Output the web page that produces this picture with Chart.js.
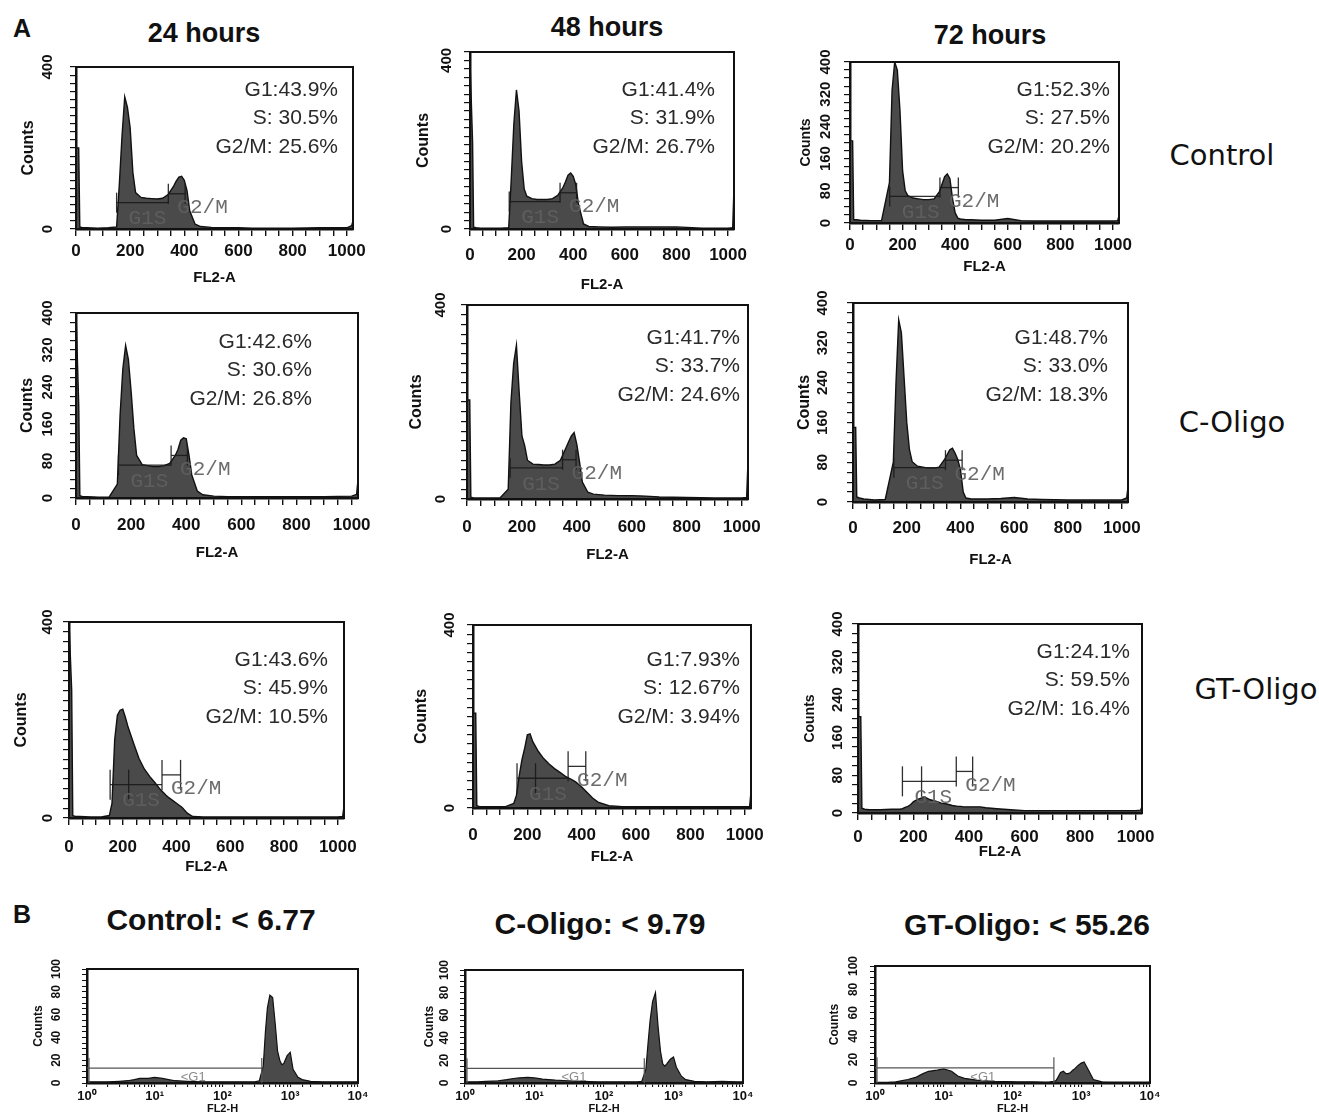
<!DOCTYPE html>
<html>
<head>
<meta charset="utf-8">
<script src="https://cdn.jsdelivr.net/npm/chart.js@4.4.1/dist/chart.umd.min.js"></script>
<style>
body{margin:0;background:#fff;width:1319px;height:1115px;position:relative;overflow:hidden;font-family:"Liberation Sans",Arial,sans-serif;color:#111}
.t{position:absolute;transform:translate(-50%,-50%);line-height:1;white-space:nowrap}
.b{font-weight:bold}
.row{font-family:"DejaVu Sans",sans-serif;font-size:29px}
canvas{position:absolute}
</style>
</head>
<body>
<div class="t b" style="left:22px;top:28px;font-size:25px">A</div>
<div class="t b" style="left:204px;top:33px;font-size:27px">24 hours</div>
<div class="t b" style="left:607px;top:27px;font-size:27px">48 hours</div>
<div class="t b" style="left:990px;top:35px;font-size:27px">72 hours</div>
<div class="t row" style="left:1222px;top:155px">Control</div>
<div class="t row" style="left:1232px;top:422px">C-Oligo</div>
<div class="t row" style="left:1256px;top:689px">GT-Oligo</div>
<div class="t b" style="left:22px;top:914px;font-size:25px">B</div>
<div class="t b" style="left:211px;top:920px;font-size:30px">Control: &lt; 6.77</div>
<div class="t b" style="left:600px;top:924px;font-size:30px">C-Oligo: &lt; 9.79</div>
<div class="t b" style="left:1027px;top:925px;font-size:30px">GT-Oligo: &lt; 55.26</div>

<script>
'use strict'

// DNA content channels (FL2-A), shared by the nine cell-cycle histograms
const CH = [0, 10, 14, 24, 40, 80, 120, 150, 160, 170, 180, 190, 200, 210, 220, 240, 260, 280, 300, 320,
  340, 360, 370, 380, 390, 400, 410, 420, 440, 460, 500, 550, 600, 650, 700, 800, 900, 1000, 1018, 1023];

// counts per channel
const CTRL_24   = [200,200,5,3,3,2,3,5,110,230,326,300,250,140,90,78,76,75,74,76,85,105,118,128,130,120,95,45,12,6,4,3,3,2,2,2,3,3,8,20];
const CTRL_48   = [400,205,4,3,2,2,2,3,120,250,330,280,160,95,78,72,70,70,70,72,80,98,112,128,133,125,105,60,12,6,5,4,5,5,5,5,2,2,3,100];
const CTRL_72   = [204,204,8,8,7,6,6,100,330,400,380,280,130,80,68,62,60,58,58,60,78,115,122,110,60,25,12,10,8,8,7,7,11,6,5,5,5,5,6,18];
const COLIGO_24 = [400,200,5,3,3,2,2,30,180,280,330,300,230,150,92,72,70,68,68,70,75,92,105,125,130,128,92,50,15,7,4,3,3,3,3,3,3,4,8,40];
const COLIGO_48 = [204,204,4,2,2,2,2,20,200,280,317,220,130,110,80,72,71,70,70,72,80,105,118,130,137,112,75,35,14,10,8,7,7,6,4,3,2,2,3,78];
const COLIGO_72 = [150,150,10,8,6,4,5,80,240,366,340,250,160,105,81,72,70,68,68,70,85,105,108,98,85,64,20,8,6,6,6,7,9,6,5,4,4,4,8,30];
const GT_24     = [400,260,5,3,3,2,2,5,30,160,210,220,222,205,185,153,122,100,85,72,58,47,42,38,34,30,26,22,10,3,2,2,2,2,2,2,2,2,3,24];
const GT_48     = [207,207,5,3,3,3,3,10,28,70,105,130,160,162,145,124,108,96,86,78,69,63,60,56,51,46,40,34,22,13,5,3,3,3,3,3,3,3,3,36];
const GT_72     = [204,204,10,8,7,7,8,8,9,12,14,18,24,27,30,34,28,25,21,19,16,14,14,13,13,13,13,13,13,11,9,7,5,5,5,5,5,5,6,14];

// gates: G1 start, G1/S split (0 = none), S end, G2/M end, G1-S marker level, G2/M marker level
const GATE_CTRL_24   = [150, 0, 341, 403, 65, 87];
const GATE_CTRL_48   = [152, 0, 349, 413, 65, 86];
const GATE_CTRL_72   = [151, 0, 342, 412, 66, 88];
const GATE_COLIGO_24 = [154, 0, 345, 404, 71, 92];
const GATE_COLIGO_48 = [157, 0, 348, 397, 64, 81];
const GATE_COLIGO_72 = [152, 0, 344, 406, 69, 84];
const GATE_GT_24     = [153, 222, 346, 415, 68, 88];
const GATE_GT_48     = [162, 230, 350, 415, 65, 91];
const GATE_GT_72     = [160, 229, 354, 413, 67, 88];

const PCT_CTRL_24   = ['G1:43.9%', 'S: 30.5%', 'G2/M: 25.6%'];
const PCT_CTRL_48   = ['G1:41.4%', 'S: 31.9%', 'G2/M: 26.7%'];
const PCT_CTRL_72   = ['G1:52.3%', 'S: 27.5%', 'G2/M: 20.2%'];
const PCT_COLIGO_24 = ['G1:42.6%', 'S: 30.6%', 'G2/M: 26.8%'];
const PCT_COLIGO_48 = ['G1:41.7%', 'S: 33.7%', 'G2/M: 24.6%'];
const PCT_COLIGO_72 = ['G1:48.7%', 'S: 33.0%', 'G2/M: 18.3%'];
const PCT_GT_24     = ['G1:43.6%', 'S: 45.9%', 'G2/M: 10.5%'];
const PCT_GT_48     = ['G1:7.93%', 'S: 12.67%', 'G2/M: 3.94%'];
const PCT_GT_72     = ['G1:24.1%', 'S: 59.5%', 'G2/M: 16.4%'];

const X_TICKS = [0, 200, 400, 600, 800, 1000];
const Y_SPARSE = [0, 400];
const Y_FULL = [0, 80, 160, 240, 320, 400];

// panel B: sub-G1 (FL2-H, log)
const B_X = [1, 1.5, 2, 3, 4, 5, 6, 8, 10, 13, 16, 20, 30, 50, 80, 120, 200, 300, 350, 400, 430, 460, 500,
  550, 600, 650, 700, 750, 800, 900, 1000, 1100, 1300, 1500, 2000, 3000, 5000, 8000, 10000];
const B_CONTROL = [1,1,1,1.5,2,3,4,4,5,4,3,2,1.5,1,1,1,1,1,2,15,45,66,77,75,52,28,20,16,17,24,27,12,5,3,1.5,1,1,1,1];
const B_COLIGO  = [1,1,1.5,2,3,4,4.5,5,4.5,3.5,3,2.5,2,1.5,1,1,1,1,1.5,12,35,55,72,80,50,28,17,15,17,21,23,14,6,3,1.5,1,1.5,1,1];
const B_GTOLIGO = [0.5,0.5,1,3,5,8,10,11,12,10,6,4,2.5,1.5,1.2,1,1,0.8,1,1.5,2,5,9,10,8,8,9,11,12,15,17,18,10,3,1,0.8,0.8,0.8,0.8];
const B_GATE = [380, 380, 400];
const B_X_LABELS = {1: '10\u2070', 10: '10\u00b9', 100: '10\u00b2', 1000: '10\u00b3', 10000: '10\u2074'};
const B_Y_TICKS = [0, 20, 40, 60, 80, 100];

Chart.defaults.font.family = '"Liberation Sans", Arial, sans-serif';

const A_PANELS = [
  {L:76,  T:67,  R:353,  B:229, ymax:400, data:CTRL_24,   gate:GATE_CTRL_24,   pct:PCT_CTRL_24,   yt:Y_SPARSE, yLab:-28, cnt:-47, cntSize:16, pctDx:-15, pctDy:23, xLab:22, xTitle:49},
  {L:470, T:52,  R:734,  B:229, ymax:420, data:CTRL_48,   gate:GATE_CTRL_48,   pct:PCT_CTRL_48,   yt:Y_SPARSE, yLab:-23, cnt:-46, cntSize:16, pctDx:-19, pctDy:38, xLab:26, xTitle:56},
  {L:850, T:62,  R:1119, B:223, ymax:400, data:CTRL_72,   gate:GATE_CTRL_72,   pct:PCT_CTRL_72,   yt:Y_FULL,   yLab:-24, cnt:-44, cntSize:14, pctDx:-9,  pctDy:28, xLab:22, xTitle:44},
  {L:76,  T:313, R:358,  B:498, ymax:400, data:COLIGO_24, gate:GATE_COLIGO_24, pct:PCT_COLIGO_24, yt:Y_FULL,   yLab:-28, cnt:-48, cntSize:16, pctDx:-46, pctDy:29, xLab:27, xTitle:55},
  {L:467, T:305, R:748,  B:499, ymax:400, data:COLIGO_48, gate:GATE_COLIGO_48, pct:PCT_COLIGO_48, yt:Y_SPARSE, yLab:-26, cnt:-50, cntSize:16, pctDx:-8,  pctDy:33, xLab:28, xTitle:56},
  {L:853, T:303, R:1128, B:502, ymax:400, data:COLIGO_72, gate:GATE_COLIGO_72, pct:PCT_COLIGO_72, yt:Y_FULL,   yLab:-30, cnt:-48, cntSize:16, pctDx:-20, pctDy:35, xLab:26, xTitle:58},
  {L:69,  T:622, R:344,  B:818, ymax:400, data:GT_24,     gate:GATE_GT_24,     pct:PCT_GT_24,     yt:Y_SPARSE, yLab:-21, cnt:-47, cntSize:16, pctDx:-16, pctDy:38, xLab:29, xTitle:49},
  {L:473, T:625, R:751,  B:808, ymax:400, data:GT_48,     gate:GATE_GT_48,     pct:PCT_GT_48,     yt:Y_SPARSE, yLab:-23, cnt:-51, cntSize:16, pctDx:-11, pctDy:35, xLab:27, xTitle:49},
  {L:858, T:624, R:1142, B:813, ymax:400, data:GT_72,     gate:GATE_GT_72,     pct:PCT_GT_72,     yt:Y_FULL,   yLab:-20, cnt:-48, cntSize:14, pctDx:-12, pctDy:28, xLab:24, xTitle:39}
];

const B_PANELS = [
  {L:87,  T:969, R:358,  B:1083, data:B_CONTROL, gate:B_GATE[0], yLab:-30, cnt:-48},
  {L:465, T:970, R:743,  B:1083, data:B_COLIGO,  gate:B_GATE[1], yLab:-20, cnt:-35},
  {L:875, T:966, R:1150, B:1083, data:B_GTOLIGO, gate:B_GATE[2], yLab:-21, cnt:-40}
];

function vtext(ctx, txt, x, y) {
  ctx.save();
  ctx.translate(x, y);
  ctx.rotate(-Math.PI / 2);
  ctx.fillText(txt, 0, 0);
  ctx.restore();
}

function line(ctx, x1, y1, x2, y2) {
  ctx.beginPath(); ctx.moveTo(x1, y1); ctx.lineTo(x2, y2); ctx.stroke();
}

function makeCanvas(p, m) {
  const cv = document.createElement('canvas');
  const w = p.R - p.L + m.l + m.r, h = p.B - p.T + m.t + m.b;
  cv.width = w; cv.height = h;
  cv.style.left = (p.L - m.l) + 'px';
  cv.style.top = (p.T - m.t) + 'px';
  cv.style.width = w + 'px';
  cv.style.height = h + 'px';
  document.body.appendChild(cv);
  return cv;
}

const axisLine = {display: true, color: '#111', width: 2.5};

// cell cycle histograms
A_PANELS.forEach(p => {
  const m = {l: 62, r: 32, t: 20, b: 64};
  const cv = makeCanvas(p, m);
  const decor = {
    id: 'decor',
    afterDatasetsDraw(chart) {
      const {ctx, chartArea: a, scales} = chart;
      const X = v => scales.x.getPixelForValue(v);
      const Y = v => scales.y.getPixelForValue(v);
      ctx.save();
      ctx.strokeStyle = '#111'; ctx.lineWidth = 2;
      ctx.strokeRect(a.left, a.top, a.right - a.left, a.bottom - a.top);

      // gate markers
      const [g1, gs, g2, g3, ya, yb] = p.gate;
      const h = gs ? 15 : 10;
      ctx.strokeStyle = 'rgba(25,25,25,0.9)'; ctx.lineWidth = 1.3;
      line(ctx, X(g1), Y(ya), X(g2), Y(ya));
      [g1, gs].filter(v => v).forEach(v => line(ctx, X(v), Y(ya) - h, X(v), Y(ya) + h));
      line(ctx, X(g2), Y(yb), X(g3), Y(yb));
      [g2, g3].forEach(v => line(ctx, X(v), Y(yb) - h, X(v), Y(yb) + h));
      ctx.fillStyle = 'rgba(95,95,95,0.92)';
      ctx.font = '21px "Liberation Mono", monospace';
      ctx.textAlign = 'left'; ctx.textBaseline = 'middle';
      ctx.fillText('G1S', X(g1) + 12, Y(ya) + 16);
      ctx.fillText('G2/M', X(g2) + 9, Y(yb) + 14);

      // percentages
      ctx.fillStyle = '#2a2a2a';
      ctx.font = '21px "Liberation Sans", Arial, sans-serif';
      ctx.textAlign = 'right';
      p.pct.forEach((s, i) => ctx.fillText(s, a.right + p.pctDx, a.top + p.pctDy + i * 28.5));

      // y tick labels, rotated
      ctx.fillStyle = '#111'; ctx.textAlign = 'center';
      ctx.font = 'bold 15px "Liberation Sans", Arial, sans-serif';
      p.yt.forEach(v => vtext(ctx, String(v), a.left + p.yLab, Y(v)));
      ctx.font = 'bold ' + p.cntSize + 'px "Liberation Sans", Arial, sans-serif';
      vtext(ctx, 'Counts', a.left + p.cnt, (a.top + a.bottom) / 2);
      ctx.font = 'bold 15px "Liberation Sans", Arial, sans-serif';
      ctx.fillText('FL2-A', (a.left + a.right) / 2, a.bottom + p.xTitle);
      ctx.restore();
    }
  };
  new Chart(cv, {
    type: 'line',
    data: {
      datasets: [{
        data: CH.map((c, i) => ({x: c, y: p.data[i]})),
        borderColor: '#111', borderWidth: 1.4,
        backgroundColor: '#4a4a4a', fill: 'origin',
        pointRadius: 0, tension: 0
      }]
    },
    options: {
      responsive: false, animation: false, devicePixelRatio: 1,
      layout: {padding: {left: 0, top: m.t, right: m.r, bottom: 0}},
      plugins: {legend: {display: false}, tooltip: {enabled: false}},
      scales: {
        x: {
          type: 'linear', min: 0, max: 1023,
          border: axisLine,
          grid: {drawOnChartArea: false, tickLength: 7, color: '#111', lineWidth: 1.4},
          ticks: {
            stepSize: 50, autoSkip: false, includeBounds: false, maxRotation: 0,
            padding: p.xLab - 7 - 10.2, color: '#111',
            font: {weight: 'bold', size: 17},
            callback: v => X_TICKS.includes(v) ? String(v) : ''
          },
          afterFit: s => { s.height = m.b; }
        },
        y: {
          min: 0, max: p.ymax,
          border: axisLine,
          grid: {drawOnChartArea: false, tickLength: 6, color: '#111', lineWidth: 1.2},
          ticks: {display: false, stepSize: 20, includeBounds: false},
          afterFit: s => { s.width = m.l; }
        }
      }
    },
    plugins: [decor]
  });
});

// sub-G1 histograms
B_PANELS.forEach(p => {
  const m = {l: 55, r: 25, t: 14, b: 32};
  const cv = makeCanvas(p, m);
  const decor = {
    id: 'decorB',
    afterDatasetsDraw(chart) {
      const {ctx, chartArea: a, scales} = chart;
      const X = v => scales.x.getPixelForValue(v);
      const Y = v => scales.y.getPixelForValue(v);
      ctx.save();
      ctx.strokeStyle = '#111'; ctx.lineWidth = 2;
      ctx.strokeRect(a.left, a.top, a.right - a.left, a.bottom - a.top);
      ctx.strokeStyle = '#555'; ctx.lineWidth = 1.2;
      line(ctx, X(1), Y(13), X(p.gate), Y(13));
      [1, p.gate].forEach(v => line(ctx, X(v) + (v === 1 ? 2 : 0), Y(22), X(v) + (v === 1 ? 2 : 0), Y(0)));
      ctx.fillStyle = '#8a8a8a';
      ctx.font = '13px "Liberation Sans", Arial, sans-serif';
      ctx.textAlign = 'center'; ctx.textBaseline = 'middle';
      ctx.fillText('<G1', X(37), Y(5));

      ctx.fillStyle = '#111';
      ctx.font = 'bold 12px "Liberation Sans", Arial, sans-serif';
      B_Y_TICKS.forEach(v => vtext(ctx, String(v), a.left + p.yLab, Y(v)));
      vtext(ctx, 'Counts', a.left + p.cnt, (a.top + a.bottom) / 2);
      ctx.font = 'bold 11px "Liberation Sans", Arial, sans-serif';
      ctx.fillText('FL2-H', (a.left + a.right) / 2, a.bottom + 26);
      ctx.restore();
    }
  };
  new Chart(cv, {
    type: 'line',
    data: {
      datasets: [{
        data: B_X.map((c, i) => ({x: c, y: p.data[i]})),
        borderColor: '#111', borderWidth: 1.2,
        backgroundColor: '#4a4a4a', fill: 'origin',
        pointRadius: 0, tension: 0
      }]
    },
    options: {
      responsive: false, animation: false, devicePixelRatio: 1,
      layout: {padding: {left: 0, top: m.t, right: m.r, bottom: 0}},
      plugins: {legend: {display: false}, tooltip: {enabled: false}},
      scales: {
        x: {
          type: 'logarithmic', min: 1, max: 10000,
          border: axisLine,
          grid: {drawOnChartArea: false, tickLength: 4, color: '#111', lineWidth: 1.1},
          ticks: {
            autoSkip: false, maxRotation: 0, padding: 2, color: '#111',
            font: {weight: 'bold', size: 13},
            callback: v => B_X_LABELS[v] || ''
          },
          afterFit: s => { s.height = m.b; }
        },
        y: {
          min: 0, max: 100,
          border: axisLine,
          grid: {drawOnChartArea: false, tickLength: 5, color: '#111', lineWidth: 1},
          ticks: {display: false, stepSize: 5, includeBounds: false},
          afterFit: s => { s.width = m.l; }
        }
      }
    },
    plugins: [decor]
  });
});
</script>
</body>
</html>
